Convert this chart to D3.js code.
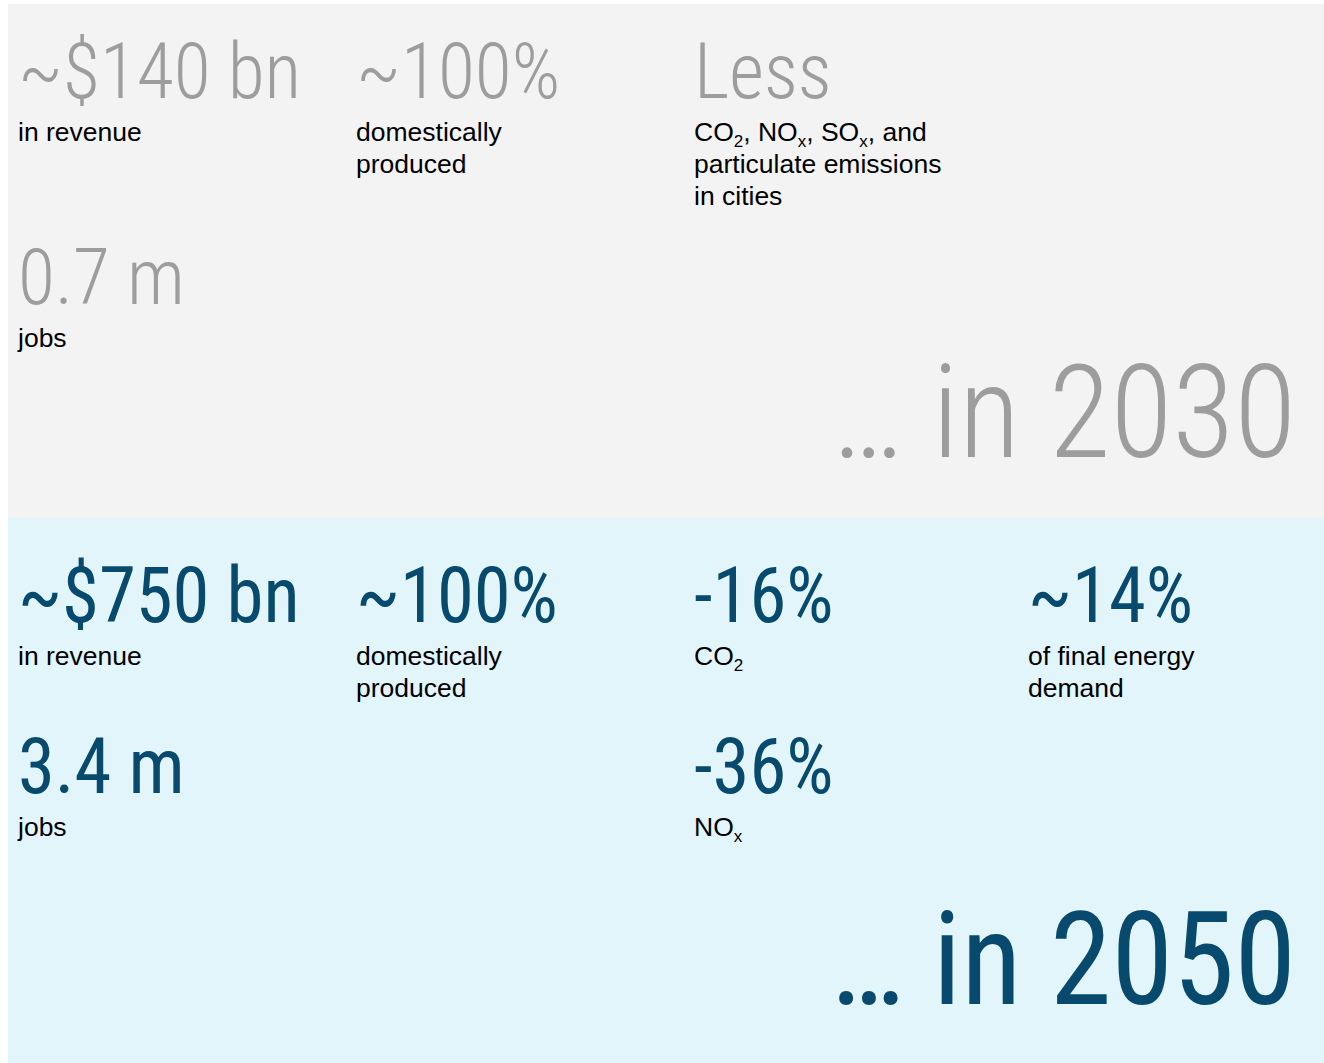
<!DOCTYPE html>
<html>
<head>
<meta charset="utf-8">
<script src="https://cdn.jsdelivr.net/npm/d3@7"></script>
<style>
  html, body { margin: 0; padding: 0; background: #fff; }
</style>
</head>
<body>
<div id="chart"></div>
<script>
// values
const years = ["2030", "2050"]
const headlines2030 = ["~$140 bn", "~100%", "Less", "0.7 m"]
const captions2030 = [
  ["in revenue"],
  ["domestically", "produced"],
  ["CO_2, NO_x, SO_x, and", "particulate emissions", "in cities"],
  ["jobs"]
]
const columns2030 = [0, 1, 2, 0]
const rows2030 = [0, 0, 0, 1]

const headlines2050 = ["~$750 bn", "~100%", "-16%", "~14%", "3.4 m", "-36%"]
const captions2050 = [
  ["in revenue"],
  ["domestically", "produced"],
  ["CO_2"],
  ["of final energy", "demand"],
  ["jobs"],
  ["NO_x"]
]
const columns2050 = [0, 1, 2, 3, 0, 2]
const rows2050 = [0, 0, 0, 0, 1, 1]

const width = 1324
const height = 1063

// is Roboto Condensed really there? if not, squeeze Roboto by hand
var ctx = document.createElement("canvas").getContext("2d")
ctx.font = "300 100px 'Roboto Condensed', monospace"
var wCond = ctx.measureText("~$140 bn").width
ctx.font = "300 100px monospace"
var wMono = ctx.measureText("~$140 bn").width
var hasCondensed = Math.abs(wCond - wMono) > 0.5
var bigFamily = hasCondensed ? "'Roboto Condensed', Roboto" : "Roboto"
var extra = hasCondensed ? 1 : 0.86

var x = d3.scaleOrdinal().domain([0, 1, 2, 3]).range([18, 356, 694, 1028])

var panels = [
  {
    year: years[0],
    headlines: headlines2030,
    captions: captions2030,
    cols: columns2030,
    rows: rows2030,
    top: 4,
    bottom: 518,
    fill: "#f3f3f3",
    ink: "#9d9d9d",
    weight: 300,
    headSqueeze: 0.985 * extra,
    yearSqueeze: 0.978 * extra,
    y: d3.scaleOrdinal().domain([0, 1]).range([98, 304]),
    yearBase: 457
  },
  {
    year: years[1],
    headlines: headlines2050,
    captions: captions2050,
    cols: columns2050,
    rows: rows2050,
    top: 518,
    bottom: 1063,
    fill: "#e2f5fb",
    ink: "#074a6e",
    weight: 400,
    headSqueeze: 0.97 * extra,
    yearSqueeze: 0.958 * extra,
    y: d3.scaleOrdinal().domain([0, 1]).range([622, 793]),
    yearBase: 1004
  }
]

var svg = d3.select("#chart")
  .append("svg")
  .attr("width", width)
  .attr("height", height)

// write "CO_2" as CO with a subscript 2
function addLine(text, line) {
  var parts = line.split(/_(\w)/)
  var lowered = false
  parts.forEach(function(p, i) {
    if (p === "") return
    var ts = text.append("tspan").text(p)
    if (i % 2 === 1) {
      ts.attr("dy", 6).attr("font-size", 17)
      lowered = true
    } else if (lowered) {
      ts.attr("dy", -6)
      lowered = false
    }
  })
}

panels.forEach(function(panel) {
  var g = svg.append("g")

  g.append("rect")
    .attr("x", 8)
    .attr("y", panel.top)
    .attr("width", width - 8)
    .attr("height", panel.bottom - panel.top)
    .attr("fill", panel.fill)

  var cells = g.selectAll("g.cell")
    .data(panel.headlines.map(function(h, i) {
      return { head: h, caption: panel.captions[i], col: panel.cols[i], row: panel.rows[i] }
    }))
    .enter()
    .append("g")
    .attr("class", "cell")

  cells.append("text")
    .attr("transform", function(d) {
      return "translate(" + x(d.col) + "," + panel.y(d.row) + ") scale(" + panel.headSqueeze + ",1)"
    })
    .attr("font-family", bigFamily)
    .attr("font-weight", panel.weight)
    .attr("font-size", 77)
    .attr("fill", panel.ink)
    .text(function(d) { return d.head })

  cells.each(function(d) {
    var cell = d3.select(this)
    d.caption.forEach(function(line, k) {
      var t = cell.append("text")
        .attr("x", x(d.col))
        .attr("y", panel.y(d.row) + 43 + k * 32)
        .attr("font-family", "'Liberation Sans', Arial, sans-serif")
        .attr("font-size", 26.5)
        .attr("fill", "#000")
      addLine(t, line)
    })
  })

  g.append("text")
    .attr("transform", "translate(1296," + panel.yearBase + ") scale(" + panel.yearSqueeze + ",1)")
    .attr("text-anchor", "end")
    .attr("font-family", bigFamily)
    .attr("font-weight", panel.weight)
    .attr("font-size", 130)
    .attr("fill", panel.ink)
    .text("\u2026 in " + panel.year)
})
</script>
</body>
</html>
